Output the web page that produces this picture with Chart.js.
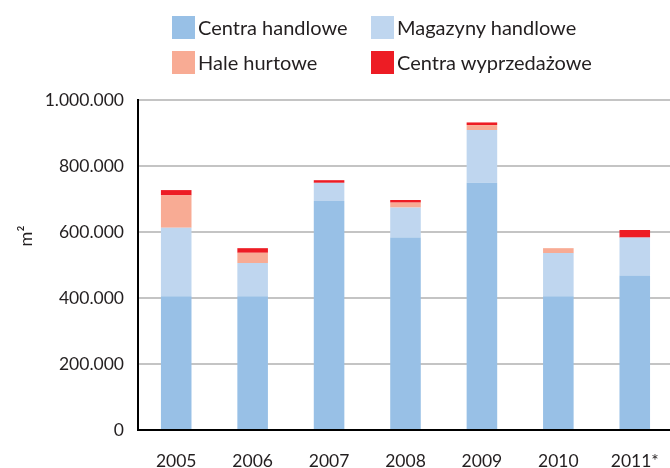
<!DOCTYPE html>
<html>
<head>
<meta charset="utf-8">
<script src="https://cdn.jsdelivr.net/npm/chart.js@4/dist/chart.umd.min.js"></script>
<style>
  html, body { margin: 0; padding: 0; background: #fff; overflow: hidden; }
  #wrap { position: relative; width: 670px; height: 468px; overflow: hidden; }
  #box { position: absolute; left: 0; top: 0; width: 680px; height: 468px; }
  #legenda { position: absolute; left: 0; top: 0; font-family: Lato, sans-serif; font-size: 20px; color: #231f20; }
  .item { position: absolute; white-space: nowrap; height: 23px; line-height: 23px; }
  .item span.sq { position: absolute; left: 0; top: 0; width: 23px; height: 23px; }
  .item span.tx { position: absolute; left: 26px; top: 0; }
</style>
</head>
<body>
<div id="wrap">
  <div id="box"><canvas id="grafico" width="680" height="468"></canvas></div>
  <div id="legenda"></div>
</div>
<script>
// Dane (m2)
const lata = ['2005', '2006', '2007', '2008', '2009', '2010', '2011*'];
const centraHandlowe = [405000, 405000, 694000, 583000, 749000, 405000, 468000];
const magazynyHandlowe = [208000, 101000, 55000, 91000, 160000, 131000, 115000];
const haleHurtowe = [98000, 31000, 0, 15000, 15000, 15000, 0];
const centraWyprzedazowe = [16000, 14000, 8000, 8000, 8000, 0, 23000];
const osY = [0, 200000, 400000, 600000, 800000, 1000000];

const kolory = ['#98c0e6', '#bfd6ef', '#f8ab94', '#ed1c24'];
const tekst = '#231f20';

// format liczb z kropkami: 1.000.000
const fmt = v => String(v).replace(/\B(?=(\d{3})+(?!\d))/g, '.');

// tytul osi Y "m²" rysowany recznie (przesuniety wyzej niz srodek osi)
const tytulY = {
  id: 'tytulY',
  afterDraw(chart) {
    const c = chart.ctx;
    c.save();
    c.translate(26, 236);
    c.rotate(-Math.PI / 2);
    c.fillStyle = tekst;
    c.font = '18px Lato, sans-serif';
    c.textAlign = 'center';
    c.textBaseline = 'middle';
    c.fillText('m²', 0, 0);
    c.restore();
  }
};

const ctx = document.getElementById('grafico').getContext('2d');
const wykres = new Chart(ctx, {
  type: 'bar',
  data: {
    labels: lata,
    datasets: [
      { label: 'Centra handlowe', data: centraHandlowe, backgroundColor: kolory[0] },
      { label: 'Magazyny handlowe', data: magazynyHandlowe, backgroundColor: kolory[1] },
      { label: 'Hale hurtowe', data: haleHurtowe, backgroundColor: kolory[2] },
      { label: 'Centra wyprzedażowe', data: centraWyprzedazowe, backgroundColor: kolory[3] }
    ]
  },
  options: {
    responsive: false,
    animation: false,
    layout: { padding: { top: 100, right: 3, left: 0, bottom: 0 } },
    datasets: { bar: { barPercentage: 0.4, categoryPercentage: 1 } },
    plugins: {
      legend: { display: false },
      tooltip: { enabled: false }
    },
    scales: {
      x: {
        stacked: true,
        grid: { display: false, drawTicks: false },
        border: { color: '#000', width: 2 },
        ticks: { color: tekst, padding: 21, font: { family: 'Lato, sans-serif', size: 17.5 } },
        afterFit: s => { s.height = 38; }
      },
      y: {
        stacked: true,
        min: 0,
        max: 1000000,
        afterBuildTicks: s => { s.ticks = osY.map(v => ({ value: v })); },
        grid: { color: '#c4c4c4', lineWidth: 2, drawTicks: false },
        border: { color: '#000', width: 2 },
        ticks: {
          color: tekst,
          padding: 14,
          font: { family: 'Lato, sans-serif', size: 17.5 },
          callback: v => fmt(v)
        },
        afterFit: s => { s.width = 138; }
      }
    }
  },
  plugins: [tytulY]
});

// legenda 2x2 z danych wykresu
const pozycje = [[172, 16], [371, 16], [172, 51], [371, 51]];
const leg = document.getElementById('legenda');
wykres.data.datasets.forEach((ds, i) => {
  const el = document.createElement('div');
  el.className = 'item';
  el.style.left = pozycje[i][0] + 'px';
  el.style.top = pozycje[i][1] + 'px';
  el.innerHTML = '<span class="sq" style="background:' + ds.backgroundColor + '"></span><span class="tx">' + ds.label + '</span>';
  leg.appendChild(el);
});
</script>
</body>
</html>
